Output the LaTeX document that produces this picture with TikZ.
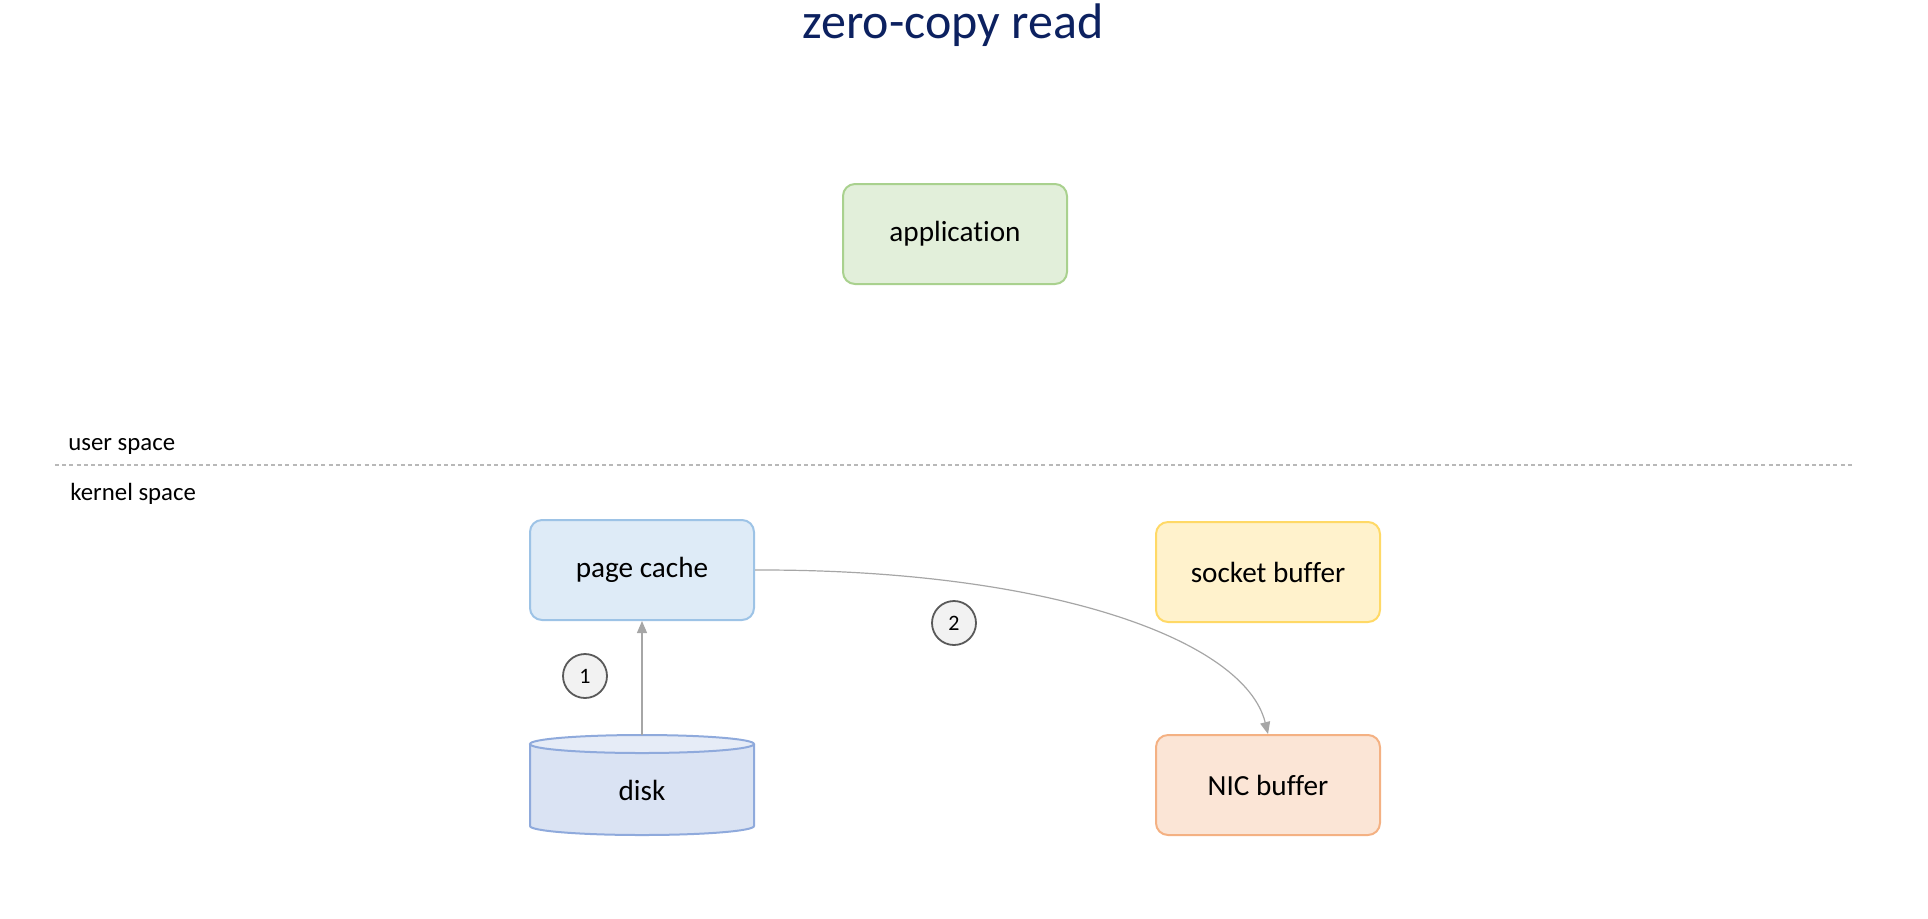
\documentclass[tikz,border=0pt]{standalone}
\usepackage{fontspec}
\setmainfont{Carlito}[Ligatures=NoCommon]
\usetikzlibrary{arrows.meta}
\definecolor{titleblue}{HTML}{0C2160}
\definecolor{appfill}{HTML}{E2EFDA}
\definecolor{appdraw}{HTML}{A9D18E}
\definecolor{pcfill}{HTML}{DEEBF7}
\definecolor{pcdraw}{HTML}{9DC3E6}
\definecolor{sbfill}{HTML}{FFF2CC}
\definecolor{sbdraw}{HTML}{FFD966}
\definecolor{nicfill}{HTML}{FBE5D6}
\definecolor{nicdraw}{HTML}{F4B183}
\definecolor{diskfill}{HTML}{DAE3F3}
\definecolor{disktop}{HTML}{E6ECF7}
\definecolor{diskdraw}{HTML}{8FAADC}
\definecolor{linegray}{HTML}{A6A6A6}
\definecolor{circfill}{HTML}{F2F2F2}
\definecolor{circdraw}{HTML}{595959}
\tikzset{
  box/.style={rounded corners=6pt, line width=1pt, minimum width=112pt, minimum height=50pt, font=\fontsize{14.6}{17}\selectfont, inner sep=0pt},
  stepnum/.style={circle, fill=circfill, draw=circdraw, line width=0.9pt, minimum size=22pt, inner sep=0pt, font=\fontsize{11}{13}\selectfont},
  flow/.style={draw=linegray, line width=0.6pt, -{Triangle[length=6pt,width=5pt]}},
  lbl/.style={font=\fontsize{12.4}{15}\selectfont, anchor=west, inner sep=0pt}
}
\begin{document}
\begin{tikzpicture}[x=0.5pt, y=-0.5pt]
\useasboundingbox (0,0) rectangle (1928,918);
% title
\node[anchor=base, text=titleblue, font=\fontsize{25}{30}\selectfont, inner sep=0pt] (title) at (953,38) {zero-copy read};
% application
\node[box, fill=appfill, draw=appdraw] (app) at (955,234) {application};
% separator
\coordinate (sepL) at (55,465);
\coordinate (sepR) at (1854,465);
\draw[draw=linegray!80, line width=0.6pt, dash pattern=on 2pt off 1.6pt] (sepL) -- (sepR);
\node[lbl] (user) at (68,446) {user space};
\node[lbl] (kernel) at (70,494) {kernel space};
% kernel boxes
\node[box, fill=pcfill, draw=pcdraw] (pc) at (642,570) {page cache};
\node[box, fill=sbfill, draw=sbdraw] (sb) at (1268,572) {socket buffer};
\node[box, fill=nicfill, draw=nicdraw] (nic) at (1268,785) {NIC buffer};
% disk cylinder
\fill[diskfill] (530,744) -- (530,826) arc[start angle=180, end angle=0, x radius=112, y radius=9] -- (754,744) -- cycle;
\draw[diskdraw, line width=1pt] (530,744) -- (530,826) arc[start angle=180, end angle=0, x radius=112, y radius=9] -- (754,744);
\draw[diskdraw, line width=1pt, fill=disktop] (642,744) ellipse[x radius=112, y radius=9];
\node[font=\fontsize{14.6}{17}\selectfont, inner sep=0pt] (disk) at (642,790) {disk};
\coordinate (disktopc) at (642,735);
% arrows
\draw[flow] (disktopc) -- (pc.south);
\draw[flow] (pc.east) .. controls (1050,569) and (1245,640) .. (nic.north);
% step numbers
\node[stepnum] (s1) at (585,676) {1};
\node[stepnum] (s2) at (954,623) {2};
\end{tikzpicture}
\end{document}
